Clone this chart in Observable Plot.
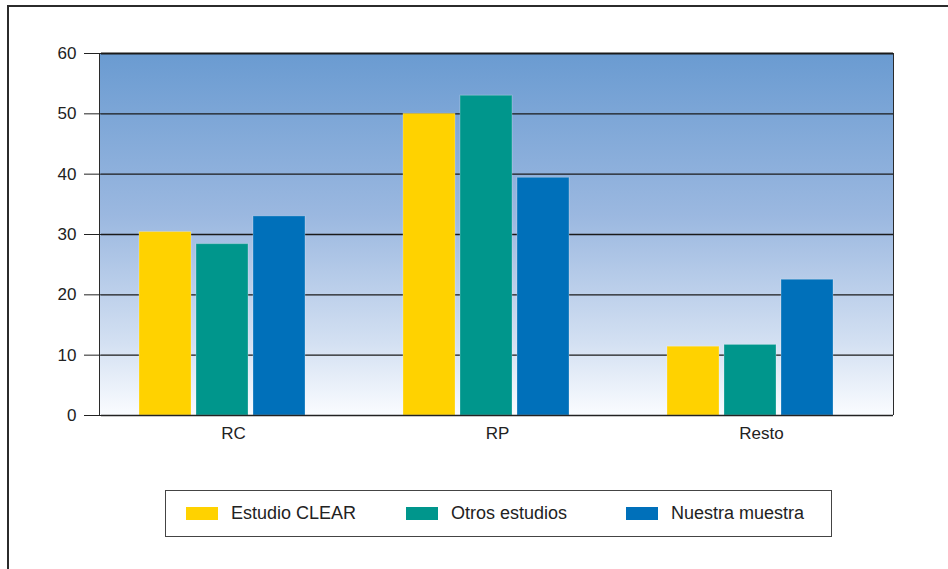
<!DOCTYPE html>
<html>
<head>
<meta charset="utf-8">
<script src="https://cdn.jsdelivr.net/npm/d3@7"></script>
<script src="https://cdn.jsdelivr.net/npm/@observablehq/plot@0.6"></script>
<style>
  html, body { margin: 0; padding: 0; background: #fff; }
  body { width: 948px; height: 569px; position: relative; overflow: hidden;
         font-family: "Liberation Sans", Arial, sans-serif; color: #222; }
  #outer { position: absolute; left: 7px; top: 5px; width: 960px; height: 600px;
           border-left: 2px solid #2b2b2b; border-top: 2px solid #2b2b2b; }
  #panel { position: absolute; left: 99px; top: 53px; width: 793px; height: 362px;
           background: linear-gradient(to bottom, #6a9bd1 0%, #9bb8e0 45%, #d3e0f2 80%, #fafcff 100%);
           border-left: 1.5px solid #2b2b2b; border-right: 1.5px solid #2b2b2b; }
  #chart { position: absolute; left: 0; top: 0; }
  #legend { position: absolute; left: 165px; top: 490px; width: 667px; height: 47px;
            box-sizing: border-box; border: 1px solid #444; display: flex; align-items: center;
            font-size: 18px; }
  .item { width: 220px; display: flex; align-items: center; padding-left: 20px; box-sizing: border-box; }
  .sw { width: 32px; height: 13px; margin-right: 13px; flex: none; }
</style>
</head>
<body>
<div id="outer"></div>
<div id="panel"></div>
<div id="chart"></div>
<div id="legend"></div>
<script>
// Categories and the three compared series (percentages)
const categories = ["RC", "RP", "Resto"];
const series = ["Estudio CLEAR", "Otros estudios", "Nuestra muestra"];
const estudioClear = [30.4, 50.0, 11.4];
const otrosEstudios = [28.4, 53.0, 11.7];
const nuestraMuestra = [33.0, 39.4, 22.5];
const yTicks = [0, 10, 20, 30, 40, 50, 60];
const colors = ["#FFD200", "#00968C", "#0070BA"];

const values = [estudioClear, otrosEstudios, nuestraMuestra];
const rows = [];
categories.forEach((c, i) => {
  series.forEach((s, j) => rows.push({category: c, series: s, value: values[j][i]}));
});

const plot = Plot.plot({
  width: 948,
  height: 470,
  marginLeft: 100,
  marginRight: 55,
  marginTop: 53,
  marginBottom: 55,
  style: {
    fontFamily: "'Liberation Sans', Arial, sans-serif",
    fontSize: "17px",
    color: "#222",
    background: "transparent",
    overflow: "visible"
  },
  fx: {domain: categories, padding: 0, axis: "bottom", label: null, tickSize: 0, tickPadding: 11},
  x: {domain: series, axis: null, paddingInner: 0.09, paddingOuter: 0, insetLeft: 38, insetRight: 60},
  y: {domain: [0, 60], ticks: yTicks, tickSize: 17, tickPadding: 8, label: null},
  color: {domain: series, range: colors},
  marks: [
    Plot.ruleY(yTicks.filter(t => t > 0 && t < 60), {stroke: "#1a1a1a", strokeWidth: 1.3}),
    Plot.barY(rows, {
      fx: "category", x: "series", y: "value", fill: "series",
      stroke: "white", strokeOpacity: 0.25, strokeWidth: 1
    }),
    Plot.ruleY([0], {stroke: "#222", strokeWidth: 1.5}),
    Plot.ruleY([60], {stroke: "#1a1a1a", strokeWidth: 2})
  ]
});
document.getElementById("chart").appendChild(plot);

// Legend box below the chart
const legend = d3.select("#legend");
series.forEach((s, j) => {
  const item = legend.append("div").attr("class", "item");
  item.append("div").attr("class", "sw").style("background", colors[j]);
  item.append("span").text(s);
});
</script>
</body>
</html>
